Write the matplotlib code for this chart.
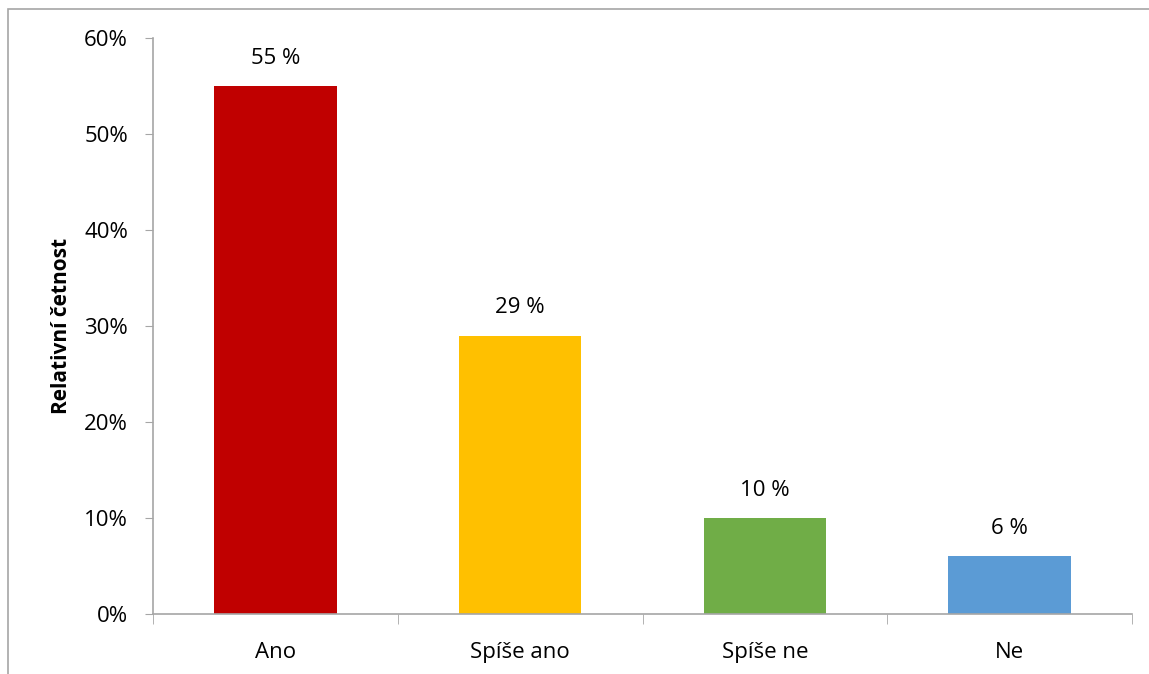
import matplotlib.pyplot as plt
from matplotlib.patches import Rectangle
from matplotlib.ticker import FuncFormatter

categories = ["Ano", "Spíše ano", "Spíše ne", "Ne"]
values = [55, 29, 10, 6]
colors = ["#C00000", "#FFC000", "#70AD47", "#5B9BD5"]
yticks = [0, 10, 20, 30, 40, 50, 60]

plt.rcParams['font.family'] = ['Open Sans', 'DejaVu Sans']

fig = plt.figure(figsize=(11.49, 6.74), dpi=100)
ax = fig.add_axes([0.1332, 0.0890, 0.8520, 0.8546])

# light frame around the chart area
fig.patches.append(Rectangle((8 / 1149, -0.05), 1.2, 1 - 9 / 674 + 0.05,
                             transform=fig.transFigure, fill=False,
                             edgecolor="#a6a6a6", linewidth=1.2))

x = range(len(categories))
ax.bar(x, values, width=0.5, color=colors)

for xi, v in zip(x, values):
    ax.annotate(f"{v} %", (xi, v), xytext=(0, 28), textcoords="offset pixels",
                ha="center", va="center", fontsize=16)

ax.set_xlim(-0.5, len(categories) - 0.5)
ax.set_ylim(0, 60)
ax.set_yticks(yticks)
ax.yaxis.set_major_formatter(FuncFormatter(lambda v, p: f"{v:.0f}%"))
ax.set_xticks(list(x))
ax.set_xticklabels(categories)
ax.set_xticks([i - 0.5 for i in range(len(categories) + 1)], minor=True)

ax.tick_params(axis="y", length=6, color="#a6a6a6", labelsize=16, pad=12)
ax.tick_params(axis="x", which="major", length=0, labelsize=16, pad=20)
ax.tick_params(axis="x", which="minor", length=7, color="#a6a6a6")

for s in ["top", "right"]:
    ax.spines[s].set_visible(False)
for s in ["left", "bottom"]:
    ax.spines[s].set_color("#a6a6a6")
    ax.spines[s].set_linewidth(1.2)

ax.set_ylabel("Relativní četnost", fontsize=15, fontweight="bold", labelpad=9)

fig.savefig("out.png")
